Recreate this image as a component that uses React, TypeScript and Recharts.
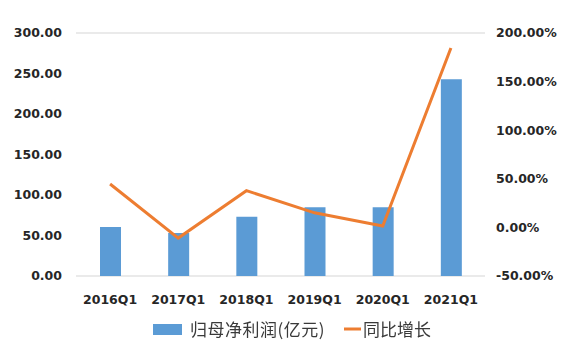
import React from 'react';
import { ComposedChart, Bar, Line, XAxis, YAxis, CartesianGrid, Legend } from 'recharts';

const categories = ['2016Q1', '2017Q1', '2018Q1', '2019Q1', '2020Q1', '2021Q1'];
const profit = [60.5, 53, 73, 85, 85, 243];
const growth = [44.7, -11, 37.8, 15, 1.4, 184.6];
const leftTicks = [0, 50, 100, 150, 200, 250, 300];
const rightTicks = [-50, 0, 50, 100, 150, 200];

const profitName = '归母净利润(亿元)';
const growthName = '同比增长';

const data = categories.map((c, i) => ({ name: c, profit: profit[i], growth: growth[i] }));

const BAR_COLOR = '#5B9BD5';
const LINE_COLOR = '#ED7D31';
const TICK_STYLE = { fontFamily: '"DejaVu Sans", Verdana, sans-serif', fontWeight: 700, fontSize: 12.5, fill: '#262626' };

const renderLegend = () => {
  return (
    <div style={{ display: 'flex', justifyContent: 'flex-start', alignItems: 'center', paddingTop: 12, paddingLeft: 143, fontFamily: '"Noto Sans CJK SC", sans-serif', fontSize: 17, color: '#3a3a3a', lineHeight: '22px', overflow: 'visible' }}>
      <svg width={29} height={11} style={{ marginRight: 8, display: 'block' }}>
        <rect x={0} y={0} width={29} height={11} fill={BAR_COLOR} />
      </svg>
      <span style={{ marginRight: 19, letterSpacing: 0.5, whiteSpace: 'nowrap' }}>{profitName}</span>
      <svg width={17} height={12} style={{ marginRight: 2, display: 'block' }}>
        <line x1={0} y1={6} x2={17} y2={6} stroke={LINE_COLOR} strokeWidth={3} />
      </svg>
      <span style={{ whiteSpace: 'nowrap' }}>{growthName}</span>
    </div>
  );
};

export default function App() {
  return (
    <div style={{ position: 'fixed', left: 0, top: 0, width: 566, height: 340, background: '#fff' }}>
      <ComposedChart width={566} height={340} data={data} margin={{ top: 33, right: 10, bottom: 0, left: 10 }}>
        <CartesianGrid vertical={false} stroke="#E3E3E3" strokeWidth={1.5} />
        <XAxis dataKey="name" axisLine={false} tickLine={false} tickMargin={13} height={30} tick={TICK_STYLE} interval={0} />
        <YAxis yAxisId="left" orientation="left" domain={[0, 300]} ticks={leftTicks} width={66} axisLine={false} tickLine={false} tickMargin={8} tick={TICK_STYLE} tickFormatter={(v: number) => v.toFixed(2)} />
        <YAxis yAxisId="right" orientation="right" domain={[-50, 200]} ticks={rightTicks} width={71} axisLine={false} tickLine={false} tickMargin={5} tick={TICK_STYLE} tickFormatter={(v: number) => `${v.toFixed(2)}%`} />
        <Legend verticalAlign="bottom" height={34} content={renderLegend} wrapperStyle={{ overflow: 'visible' }} />
        <Bar yAxisId="left" dataKey="profit" name={profitName} fill={BAR_COLOR} barSize={21} isAnimationActive={false} />
        <Line yAxisId="right" dataKey="growth" name={growthName} stroke={LINE_COLOR} strokeWidth={3} dot={false} activeDot={false} isAnimationActive={false} type="linear" />
      </ComposedChart>
    </div>
  );
}
